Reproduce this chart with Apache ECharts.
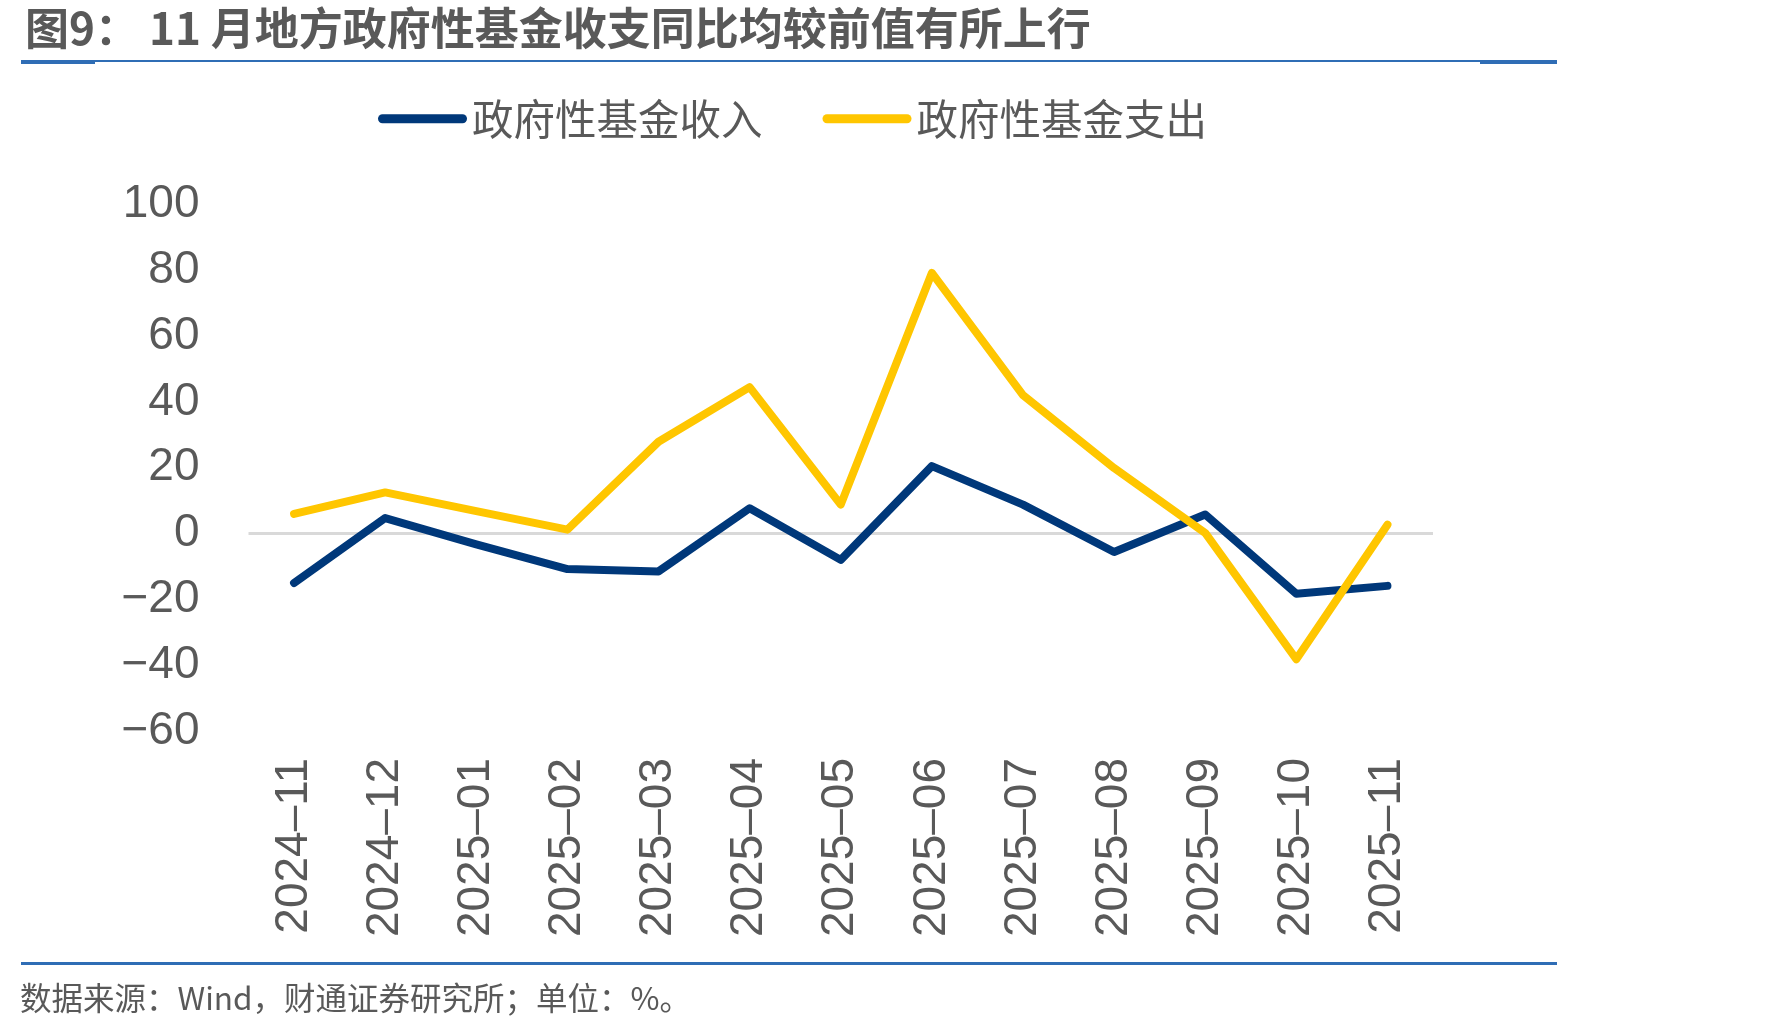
<!DOCTYPE html>
<html>
<head>
<meta charset="utf-8">
<script src="https://cdn.jsdelivr.net/npm/echarts@6/dist/echarts.min.js"></script>
<style>
html,body{margin:0;padding:0;background:#fff;}
#c{width:1771px;height:1029px;}
</style>
</head>
<body>
<div id="c"></div>
<script>
const titleText = '图9： 11 月地方政府性基金收支同比均较前值有所上行';
const sourceText = '数据来源：Wind，财通证券研究所；单位：%。';
const categories = ['2024–11','2024–12','2025–01','2025–02','2025–03','2025–04','2025–05','2025–06','2025–07','2025–08','2025–09','2025–10','2025–11'];
const seriesNames = ['政府性基金收入', '政府性基金支出'];
const incomeValues = [-15.0, 4.7, -3.3, -10.8, -11.5, 7.7, -8.0, 20.5, 8.8, -5.6, 5.8, -18.3, -15.9];
const expenditureValues = [6.0, 12.5, 6.8, 1.2, 27.9, 44.5, 8.8, 79.2, 42.1, 19.9, 0.2, -38.2, 2.7];
const yMin = -60, yMax = 100, yStep = 20;
const baselineValue = 0;

const gray = '#595959';
const cjk = '"Noto Sans CJK SC", "Liberation Sans", sans-serif';
const latin = '"Liberation Sans", Arial, sans-serif';
const chart = echarts.init(document.getElementById('c'), null, {renderer: 'canvas'});
const legendIcon = 'path://M4.5,0H84.5A4.5,4.5,0,0,1,84.5,9H4.5A4.5,4.5,0,0,1,4.5,0Z';

chart.setOption({
  backgroundColor: '#ffffff',
  animation: false,
  title: {
    text: titleText,
    left: 20, top: 1,
    textStyle: {fontFamily: cjk, fontSize: 44, fontWeight: 'bold', color: gray}
  },
  legend: {
    left: 378, top: 98, padding: 0,
    itemWidth: 89, itemHeight: 9, itemGap: 60,
    icon: legendIcon,
    textStyle: {fontFamily: cjk, fontSize: 41.5, color: gray},
    data: seriesNames
  },
  grid: {left: 248.5, right: 338, top: 204.5, bottom: 298, containLabel: false},
  xAxis: {
    type: 'category',
    data: categories,
    boundaryGap: true,
    axisLine: {show: false},
    axisTick: {show: false},
    axisLabel: {rotate: 90, margin: 27, fontSize: 46, fontFamily: latin, color: gray, interval: 0}
  },
  yAxis: {
    type: 'value',
    min: yMin, max: yMax, interval: yStep,
    axisLine: {show: false},
    axisTick: {show: false},
    splitLine: {show: false},
    axisLabel: {
      margin: 49, fontSize: 46, fontFamily: latin, color: gray,
      padding: [9, 0, 0, 0],
      formatter: v => v < 0 ? '−' + Math.abs(v) : String(v)
    }
  },
  series: [{
    name: seriesNames[0],
    type: 'line',
    data: incomeValues,
    symbol: 'none',
    color: '#00387A',
    lineStyle: {width: 8, color: '#00387A', cap: 'round', join: 'round'},
    z: 10,
    markLine: {
      silent: true,
      z: 1,
      symbol: ['none', 'none'],
      label: {show: false},
      lineStyle: {color: '#D9D9D9', width: 3, type: 'solid'},
      emphasis: {disabled: true},
      data: [{yAxis: baselineValue}]
    }
  }, {
    name: seriesNames[1],
    type: 'line',
    data: expenditureValues,
    symbol: 'none',
    color: '#FFC600',
    lineStyle: {width: 8, color: '#FFC600', cap: 'round', join: 'round'},
    z: 10
  }],
  graphic: [
    {type: 'rect', shape: {x: 21, y: 60, width: 1536, height: 2}, style: {fill: '#2F6DB5'}},
    {type: 'rect', shape: {x: 21, y: 61, width: 74, height: 3}, style: {fill: '#2F6DB5'}},
    {type: 'rect', shape: {x: 1480, y: 61, width: 77, height: 3}, style: {fill: '#2F6DB5'}},
    {type: 'rect', shape: {x: 21, y: 962, width: 1536, height: 3}, style: {fill: '#2F6DB5'}},
    {type: 'text', left: 20, top: 982, style: {text: sourceText, font: '31.5px ' + cjk, fill: gray}}
  ]
});
</script>
</body>
</html>
